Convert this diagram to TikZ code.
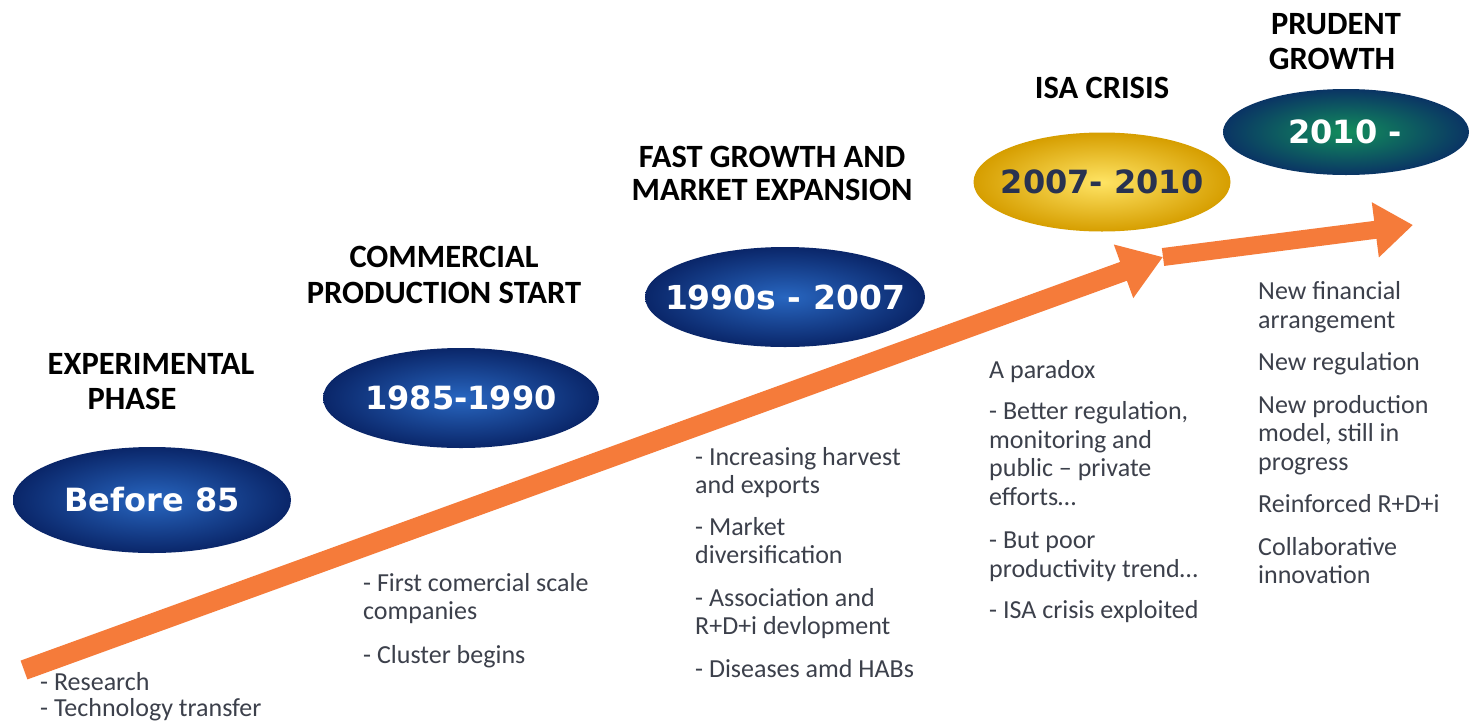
\documentclass[tikz,border=0pt]{standalone}
\usepackage{fontspec}
\setmainfont{Carlito}
\newfontfamily\verd{DejaVu Sans}
\usetikzlibrary{shapes.geometric,arrows.meta}
\definecolor{arrOrange}{RGB}{245,123,58}
\definecolor{bodyGray}{RGB}{60,64,75}
\definecolor{blueIn}{RGB}{40,102,192}
\definecolor{blueOut}{RGB}{10,38,105}
\definecolor{yelIn}{RGB}{255,228,100}
\definecolor{yelOut}{RGB}{214,158,0}
\definecolor{grnIn}{RGB}{18,142,92}
\definecolor{grnOut}{RGB}{10,52,100}
\definecolor{navyTxt}{RGB}{40,50,80}
\tikzset{
  x=1pt, y=-1pt,
  period/.style={ellipse, inner sep=0pt},
  ptext/.style={inner sep=0pt, font=\verd\bfseries\fontsize{32}{36}\selectfont},
  bluep/.style={period, shade, inner color=blueIn, outer color=blueOut},
  yelp/.style={period, shade, inner color=yelIn, outer color=yelOut},
  grnp/.style={period, shade, inner color=grnIn, outer color=grnOut},
  head/.style={anchor=base, inner sep=0pt, font=\bfseries\fontsize{32.5}{35}\selectfont, text=black},
  body/.style={anchor=base west, inner sep=0pt, font=\fontsize{26}{28}\selectfont, text=bodyGray},
  bigarrow/.style={draw=arrOrange, line width=20pt, line cap=butt}
}
\begin{document}
\begin{tikzpicture}
\useasboundingbox (0,0) rectangle (1471,723);
\fill[white] (0,0) rectangle (1471,723);

% arrows
\coordinate (a1s) at (24,670);
\coordinate (a1e) at (1163,257);
\coordinate (a2e) at (1413,225);
\draw[bigarrow, -{Triangle[length=42pt,width=54pt]}] (a1s) -- (a1e);
\draw[bigarrow, line width=18pt, -{Triangle[length=38pt,width=53pt]}] (a1e) -- (a2e);

% period ellipses
\node[bluep, minimum width=278pt, minimum height=106pt] (p1) at (152,500) {};
\node[bluep, minimum width=276pt, minimum height=100pt] (p2) at (461,398) {};
\node[bluep, minimum width=280pt, minimum height=100pt] (p3) at (785,297) {};
\node[yelp, minimum width=257pt, minimum height=99pt] (p4) at (1102,182) {};
\node[grnp, minimum width=246pt, minimum height=86pt] (p5) at (1346,132) {};
\node[ptext, text=white] (t1) at (p1.center) {Before 85};
\node[ptext, text=white] (t2) at (p2.center) {1985-1990};
\node[ptext, text=white, font=\verd\bfseries\fontsize{33}{36}\selectfont] (t3) at (p3.center) {1990s - 2007};
\node[ptext, text=navyTxt] (t4) at (p4.center) {2007- 2010};
\node[ptext, text=white] (t5) at ([xshift=-1pt]p5.center) {2010 -};

% headings
\node[head] (h1a) at (151,374) {EXPERIMENTAL};
\node[head] (h1b) at (132,409) {PHASE};
\node[head] (h2a) at (444,267) {COMMERCIAL};
\node[head] (h2b) at (444,303) {PRODUCTION START};
\node[head] (h3a) at (772,167) {FAST GROWTH AND};
\node[head] (h3b) at (772,200) {MARKET EXPANSION};
\node[head] (h4a) at (1102,98) {ISA CRISIS};
\node[head] (h5a) at (1336,34) {PRUDENT};
\node[head] (h5b) at (1332,69) {GROWTH};

% body texts
\foreach \t/\y [count=\i] in {- Research/690, - Technology transfer/716}
  \node[body] (c1l\i) at (40,\y) {\t};
\foreach \t/\y [count=\i] in {- First comercial scale/591, companies/619, - Cluster begins/663}
  \node[body] (c2l\i) at (363,\y) {\t};
\foreach \t/\y [count=\i] in {- Increasing harvest/465, and exports/493, - Market/535, diversification/563, - Association and/606, R+D+i devlopment/634, - Diseases amd HABs/677}
  \node[body] (c3l\i) at (695,\y) {\t};
\foreach \t/\y [count=\i] in {A paradox/378, {- Better regulation,}/419, monitoring and/448, public – private/476, efforts…/505, - But poor/548, productivity trend…/577, - ISA crisis exploited/618}
  \node[body] (c4l\i) at (989,\y) {\t};
\foreach \t/\y [count=\i] in {New financial/299, arrangement/328, New regulation/370, New production/413, {model, still in}/441, progress/470, Reinforced R+D+i/512, Collaborative/555, innovation/583}
  \node[body] (c5l\i) at (1258,\y) {\t};
\end{tikzpicture}
\end{document}
